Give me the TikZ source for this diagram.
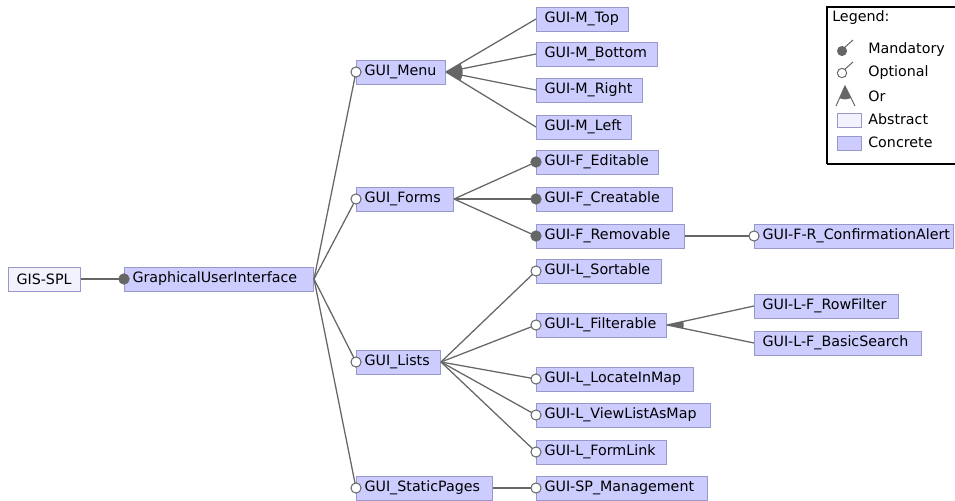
\documentclass[tikz,border=0pt]{standalone}
\usepackage{fontspec}
\setmainfont{DejaVu Sans}
\definecolor{linegray}{HTML}{666666}
\definecolor{boxline}{HTML}{9898CC}
\definecolor{concretefill}{HTML}{CCCCFF}
\definecolor{abstractfill}{HTML}{F2F2FF}
% feature box: name, left x, centre y, text width (pt), label, style
\newcommand\feat[6]{\node[#6, text width=#4pt] (#1) at (#2,#3) {\mbox{#5}};}
\begin{document}
\begin{tikzpicture}[x=0.75pt,y=-0.75pt,
  every node/.style={font=\fontsize{10.7}{12.8}\selectfont},
  featbox/.style={draw=boxline, line width=0.75pt, minimum height=18pt,
    inner xsep=6pt, inner ysep=0pt, align=left, anchor=west},
  concrete/.style={featbox, fill=concretefill},
  abstract/.style={featbox, fill=abstractfill},
  link/.style={draw=linegray, line width=0.95pt},
  mand/.style={circle, fill=linegray, draw=linegray, line width=0.6pt,
    inner sep=0pt, minimum size=7.8pt},
  opt/.style={circle, fill=white, draw=linegray, line width=0.75pt,
    inner sep=0pt, minimum size=7.6pt},
  legtext/.style={anchor=west, inner sep=0pt},
]
\useasboundingbox (0,0) rectangle (955,500);

% ---- features ----
\feat{gis}{8}{279}{42}{GIS-SPL}{abstract}
\feat{gui}{124}{279}{129.75}{GraphicalUserInterface}{concrete}

\feat{menu}{356}{72}{54.75}{GUI\_Menu}{concrete}
\feat{mtop}{536}{19}{57}{GUI-M\_Top}{concrete}
\feat{mbottom}{536}{54}{78.75}{GUI-M\_Bottom}{concrete}
\feat{mright}{536}{90}{67.5}{GUI-M\_Right}{concrete}
\feat{mleft}{536}{127}{59.25}{GUI-M\_Left}{concrete}

\feat{forms}{356}{199}{60.75}{GUI\_Forms}{concrete}
\feat{fedit}{536}{162}{79.5}{GUI-F\_Editable}{concrete}
\feat{fcreate}{536}{199}{90}{GUI-F\_Creatable}{concrete}
\feat{fremove}{536}{236}{99}{GUI-F\_Removable}{concrete}
\feat{fconfirm}{754}{236}{137.25}{GUI-F-R\_ConfirmationAlert}{concrete}

\feat{lists}{356}{362}{51}{GUI\_Lists}{concrete}
\feat{lsort}{536}{271}{81.75}{GUI-L\_Sortable}{concrete}
\feat{lfilter}{536}{325}{85.5}{GUI-L\_Filterable}{concrete}
\feat{lrow}{754}{306}{96}{GUI-L-F\_RowFilter}{concrete}
\feat{lbasic}{754}{343}{113.25}{GUI-L-F\_BasicSearch}{concrete}
\feat{llocate}{536}{379}{105.75}{GUI-L\_LocateInMap}{concrete}
\feat{lview}{536}{415}{118.5}{GUI-L\_ViewListAsMap}{concrete}
\feat{lform}{536}{452}{85.5}{GUI-L\_FormLink}{concrete}

\feat{static}{356}{488}{90}{GUI\_StaticPages}{concrete}
\feat{spm}{536}{488}{116.25}{GUI-SP\_Management}{concrete}

% ---- connectors ----
\draw[link] (gis.east) -- (gui.west);
\foreach \c in {menu,forms,lists,static} \draw[link] (gui.east) -- (\c.west);
\foreach \c in {mtop,mbottom,mright,mleft} \draw[link] (menu.east) -- (\c.west);
\foreach \c in {fedit,fcreate,fremove} \draw[link] (forms.east) -- (\c.west);
\draw[link] (fremove.east) -- (fconfirm.west);
\foreach \c in {lsort,lfilter,llocate,lview,lform} \draw[link] (lists.east) -- (\c.west);
\foreach \c in {lrow,lbasic} \draw[link] (lfilter.east) -- (\c.west);
\draw[link] (static.east) -- (spm.west);

% or-groups
\begin{scope}
  \clip (menu.east) circle [radius=12.5pt];
  \fill[linegray] (menu.east) -- (mtop.west) -- (mleft.west) -- cycle;
\end{scope}
\begin{scope}
  \clip (lfilter.east) circle [radius=12.5pt];
  \fill[linegray] (lfilter.east) -- (lrow.west) -- (lbasic.west) -- cycle;
\end{scope}

% mandatory / optional markers
\node[mand] (gui-m) at (gui.west) {};
\node[opt] (menu-o) at (menu.west) {};
\node[opt] (forms-o) at (forms.west) {};
\node[opt] (lists-o) at (lists.west) {};
\node[opt] (static-o) at (static.west) {};
\node[mand] (fedit-m) at (fedit.west) {};
\node[mand] (fcreate-m) at (fcreate.west) {};
\node[mand] (fremove-m) at (fremove.west) {};
\node[opt] (fconfirm-o) at (fconfirm.west) {};
\foreach \c in {lsort,lfilter,llocate,lview,lform,spm}
  \node[opt] (\c-o) at (\c.west) {};

% ---- legend ----
\draw[black, line width=0.8pt] (962,7) -- (827,7) -- (827,164);
\draw[black, line width=1.2pt] (827,164) -- (962,164);
\node[legtext] (legtitle) at (832,18) {Legend:};

\draw[linegray, line width=0.75pt] (844,48) -- (853,40);
\fill[linegray] (842,51) circle [radius=3.8pt];
\node[legtext] (legmand) at (868,50) {Mandatory};

\draw[linegray, line width=0.75pt] (844,70) -- (853,62);
\draw[linegray, fill=white, line width=0.75pt] (842,73) circle [radius=3.5pt];
\node[legtext] (legopt) at (868,73) {Optional};

\coordinate (ortip) at (845,86);
\coordinate (orl) at (836,106);
\coordinate (orr) at (855,106);
\begin{scope}
  \clip (ortip) circle [radius=10pt];
  \fill[linegray] (ortip) -- (orl) -- (orr) -- cycle;
\end{scope}
\draw[linegray, line width=0.75pt] (orl) -- (ortip) -- (orr);
\node[legtext] (legor) at (868,96) {Or};

\draw[boxline, fill=abstractfill, line width=0.75pt] (837,113) rectangle (861,127);
\node[legtext] (legabs) at (868,119) {Abstract};
\draw[boxline, fill=concretefill, line width=0.75pt] (837,136) rectangle (861,150);
\node[legtext] (legcon) at (868,142) {Concrete};
\end{tikzpicture}
\end{document}
